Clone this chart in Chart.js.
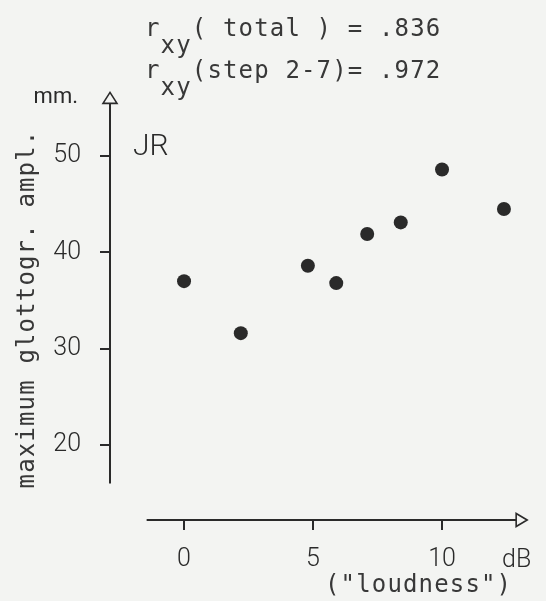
<!DOCTYPE html>
<html>
<head>
<meta charset="utf-8">
<title>JR - glottogram amplitude vs loudness</title>
<script src="https://cdn.jsdelivr.net/npm/chart.js@4.4.1/dist/chart.umd.min.js"></script>
<style>
  html, body { margin: 0; padding: 0; background: #f3f4f2; }
  #wrap { width: 546px; height: 601px; position: relative; }
</style>
</head>
<body>
<div id="wrap"><canvas id="chart"></canvas></div>
<script>
// speaker JR: loudness step (dB) against maximum glottogram amplitude (mm)
const loudnessDb = [0, 2.2, 4.8, 5.9, 7.1, 8.4, 10.0, 12.4];
const amplitudeMm = [37.0, 31.6, 38.6, 36.8, 41.9, 43.1, 48.6, 44.5];
const xTickValues = [0, 5, 10];
const yTickValues = [20, 30, 40, 50];

const ink = '#2a2a2a';
const typeInk = '#383838';
const paper = '#f3f4f2';
const sans = "'Roboto', 'Liberation Sans', sans-serif";
const mono = "'DejaVu Sans Mono', 'Liberation Mono', monospace";
const pitch = 15.6; // typewriter pitch

const points = loudnessDb.map((x, i) => ({ x: x, y: amplitudeMm[i] }));

function typed(ctx, text, x, y) {
    ctx.font = '24px ' + mono;
    ctx.fillStyle = typeInk;
    if ('letterSpacing' in ctx) ctx.letterSpacing = (pitch - 24 * 0.602).toFixed(2) + 'px';
    ctx.fillText(text, x, y);
}

const handDrawn = {
    id: 'handDrawn',
    afterDraw(chart) {
        const ctx = chart.ctx;
        const xs = chart.scales.x;
        const ys = chart.scales.y;
        const area = chart.chartArea;
        ctx.save();
        ctx.strokeStyle = ink;
        ctx.fillStyle = ink;
        ctx.lineWidth = 2;

        // vertical axis, open arrow head on top
        const ax = area.left;
        const yTip = ys.getPixelForValue(56.6);
        ctx.beginPath();
        ctx.moveTo(ax, ys.getPixelForValue(16));
        ctx.lineTo(ax, yTip + 11);
        ctx.stroke();
        ctx.lineWidth = 1.6;
        ctx.beginPath();
        ctx.moveTo(ax, yTip);
        ctx.lineTo(ax + 7, yTip + 11);
        ctx.lineTo(ax - 7, yTip + 11);
        ctx.closePath();
        ctx.fillStyle = paper;
        ctx.fill();
        ctx.stroke();

        // horizontal axis, open arrow head on the right
        const ay = area.bottom;
        const xTip = xs.getPixelForValue(13.3);
        ctx.lineWidth = 2;
        ctx.beginPath();
        ctx.moveTo(xs.getPixelForValue(-1.45), ay);
        ctx.lineTo(xTip - 11, ay);
        ctx.stroke();
        ctx.lineWidth = 1.6;
        ctx.beginPath();
        ctx.moveTo(xTip, ay);
        ctx.lineTo(xTip - 11, ay - 6.5);
        ctx.lineTo(xTip - 11, ay + 6.5);
        ctx.closePath();
        ctx.fill();
        ctx.stroke();

        ctx.fillStyle = ink;
        ctx.textBaseline = 'alphabetic';

        // units and speaker
        ctx.font = '22px ' + sans;
        ctx.textAlign = 'right';
        ctx.fillText('mm.', 78, 103);
        ctx.textAlign = 'left';
        ctx.font = '300 30px ' + sans;
        ctx.fillText('JR', 133, 155);
        ctx.font = '300 25px ' + sans;
        ctx.fillText('dB', 502, 567);

        // typewritten captions
        const x0 = 145;
        typed(ctx, 'r', x0, 36);
        typed(ctx, 'xy', x0 + pitch, 53);
        typed(ctx, '( total ) = .836', x0 + 3 * pitch, 36);
        typed(ctx, 'r', x0, 78);
        typed(ctx, 'xy', x0 + pitch, 95);
        typed(ctx, '(step 2-7)= .972', x0 + 3 * pitch, 78);
        typed(ctx, '("loudness")', 325, 592);

        ctx.translate(34, 309);
        ctx.rotate(-Math.PI / 2);
        ctx.textAlign = 'center';
        typed(ctx, 'maximum glottogr. ampl.', 0, 0);
        ctx.restore();
    }
};

new Chart(document.getElementById('chart'), {
    type: 'scatter',
    data: {
        datasets: [{
            data: points,
            pointRadius: 7,
            pointHoverRadius: 7,
            pointBackgroundColor: '#2a2a2a',
            pointBorderWidth: 0
        }]
    },
    options: {
        responsive: true,
        maintainAspectRatio: false,
        animation: false,
        layout: { padding: { top: 90, right: 16, left: 0, bottom: 0 } },
        plugins: {
            legend: { display: false },
            tooltip: { enabled: false }
        },
        scales: {
            x: {
                type: 'linear',
                position: 'bottom',
                min: -2.87,
                max: 13.41,
                afterBuildTicks: s => { s.ticks = xTickValues.map(v => ({ value: v })); },
                afterFit: s => { s.height = 81; },
                border: { display: false },
                grid: { drawOnChartArea: false, drawTicks: true, tickLength: 10, color: ink, lineWidth: 2 },
                ticks: { color: ink, padding: 15, font: { family: sans, size: 25, weight: '300' } }
            },
            y: {
                type: 'linear',
                position: 'left',
                min: 12.2,
                max: 56.85,
                afterBuildTicks: s => { s.ticks = yTickValues.map(v => ({ value: v })); },
                afterFit: s => { s.width = 110; },
                border: { display: false },
                grid: { drawOnChartArea: false, drawTicks: true, tickLength: 10, color: ink, lineWidth: 2 },
                ticks: { color: ink, padding: 19, font: { family: sans, size: 25, weight: '300' } }
            }
        }
    },
    plugins: [handDrawn]
});
</script>
</body>
</html>
